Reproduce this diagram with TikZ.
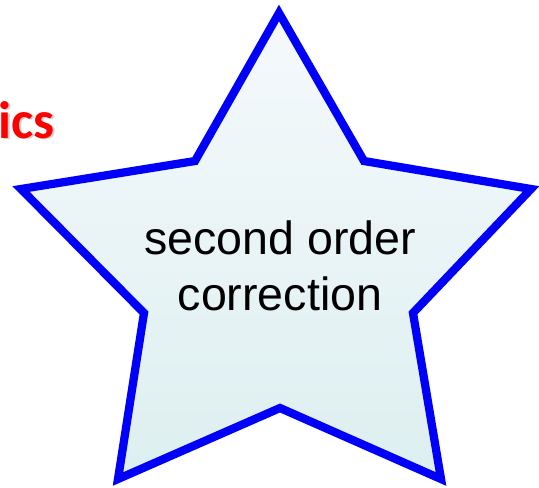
\documentclass[tikz,border=0pt]{standalone}
\usepackage{fontspec}
\setmainfont{Liberation Sans}
\newfontfamily\titlefont{Carlito}
\usepackage{xcolor}
\usetikzlibrary{shadows}

\definecolor{starblue}{RGB}{0,0,250}
\definecolor{startop}{RGB}{245,249,252}
\definecolor{starbot}{RGB}{221,239,240}

\begin{document}
\begin{tikzpicture}[
  x=0.02cm, y=-0.02cm,
  starshape/.style={draw=starblue, line width=0.165cm, line join=miter, top color=startop, bottom color=starbot},
  lab/.style={font=\fontsize{26.5}{31.5}\selectfont, align=center},
  head/.style={font=\titlefont\bfseries\fontsize{30}{36}\selectfont, text=red, anchor=base east, inner sep=0pt}
]
\useasboundingbox (0,0) rectangle (539,488);
% star outline
\coordinate (top) at (279,13);
\coordinate (itr) at (364,161);
\coordinate (rt) at (531,189);
\coordinate (ibr) at (413,313);
\coordinate (br) at (441,479);
\coordinate (bot) at (280,408);
\coordinate (bl) at (118,479);
\coordinate (ibl) at (144,313);
\coordinate (lt) at (21,189);
\coordinate (itl) at (195,161);
\path[starshape] (top) -- (itr) -- (rt) -- (ibr) -- (br) -- (bot) -- (bl) -- (ibl) -- (lt) -- (itl) -- cycle;
\node[lab] (corr) at (280,266) {second order\\correction};
% cut-off heading
\node[head, text=black!35, opacity=0.5] (hdshadow) at (56.5,139.5) {ics};
\node[head] (hd) at (55,138) {ics};
\end{tikzpicture}
\end{document}
